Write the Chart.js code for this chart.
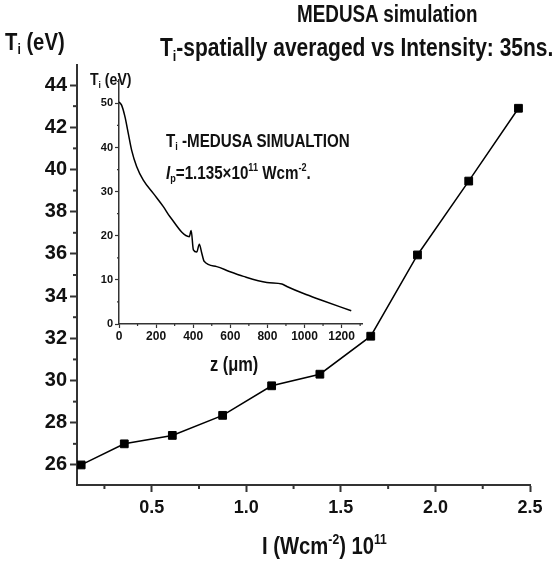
<!DOCTYPE html>
<html>
<head>
<meta charset="utf-8">
<script src="https://cdn.jsdelivr.net/npm/chart.js@4.4.1/dist/chart.umd.min.js"></script>
<style>
  body { margin:0; background:#fff; }
  #wrap { position:relative; width:559px; height:562px; font-family:'Liberation Sans Narrow','Arial Narrow','Liberation Sans',Arial,sans-serif; font-weight:bold; color:#111; }
  #main { position:absolute; left:0; top:0; }
  #inset { position:absolute; left:80px; top:70px; }
  .txt { position:absolute; white-space:nowrap; line-height:1; transform-origin:0 0; }
  .txt sub, .txt sup { font-size:60%; line-height:0; }
  .txt sub { vertical-align:-0.3em; }
  .txt sup { vertical-align:0.7em; }
</style>
</head>
<body>
<div id="wrap">
  <canvas id="main" width="559" height="562"></canvas>
  <canvas id="inset" width="290" height="290"></canvas>
  <div class="txt" style="left:5px;top:31px;font-size:23px;transform:scaleX(0.88)">T<sub>i</sub> (eV)</div>
  <div class="txt" style="left:297px;top:3px;font-size:23px;transform:scaleX(0.82)">MEDUSA simulation</div>
  <div class="txt" style="left:160px;top:35px;font-size:25px;transform:scaleX(0.84)">T<sub>i</sub>-spatially averaged vs Intensity: 35ns.</div>
  <div class="txt" style="left:262px;top:535px;font-size:23px;transform:scaleX(0.88)">I (Wcm<sup>-2</sup>) 10<sup>11</sup></div>
  <div class="txt" style="left:90px;top:72px;font-size:16px;transform:scaleX(0.88)">T<sub>i</sub> (eV)</div>
  <div class="txt" style="left:166px;top:132px;font-size:18.5px;transform:scaleX(0.82)">T<sub>i</sub> -MEDUSA SIMUALTION</div>
  <div class="txt" style="left:166px;top:164px;font-size:18.5px;transform:scaleX(0.82)"><i>I</i><sub>p</sub>=1.135×10<sup>11</sup> Wcm<sup>-2</sup>.</div>
  <div class="txt" style="left:210px;top:354px;font-size:20px;transform:scaleX(0.82)">z (μm)</div>
</div>
<script>
// main data: spatially averaged Ti vs intensity
const intensity = [0.127, 0.355, 0.609, 0.875, 1.134, 1.389, 1.658, 1.905, 2.176, 2.439];
const tiAvg = [26.0, 27.0, 27.4, 28.35, 29.75, 30.3, 32.1, 35.95, 39.45, 42.9];
const xTicks = [0.5, 1.0, 1.5, 2.0, 2.5];
const xMinor = [0.25, 0.75, 1.25, 1.75, 2.25];
const yTicks = [26, 28, 30, 32, 34, 36, 38, 40, 42, 44];
const yMinor = [27, 29, 31, 33, 35, 37, 39, 41, 43];

// inset: Ti profile along z
const insetZ = [0, 14, 32, 50, 68, 95, 131, 185, 239, 275, 379, 389, 401, 419, 433, 446, 459, 527, 595, 671, 797, 878, 905, 995, 1085, 1252];
const insetT = [50.3, 49.6, 47.0, 43.2, 39.4, 35.7, 32.6, 29.6, 26.6, 24.3, 19.8, 21.2, 16.8, 16.3, 18.1, 16.1, 14.2, 13.0, 11.9, 10.8, 9.4, 9.05, 8.5, 6.9, 5.5, 3.0];
const zTicks = [0, 200, 400, 600, 800, 1000, 1200];
const zMinor = [100, 300, 500, 700, 900, 1100, 1300];
const tTicks = [0, 10, 20, 30, 40, 50];
const tMinor = [5, 15, 25, 35, 45, 55];

const fam = "'Liberation Sans Narrow','Arial Narrow','Liberation Sans',Arial,sans-serif";
const axisCol = '#333';

// short minor tick marks on the outside of the axes
const minorTicks = {
  id: 'minorTicks',
  afterDraw(chart, args, opts) {
    const ctx = chart.ctx;
    ctx.save();
    ctx.strokeStyle = axisCol;
    ctx.lineWidth = opts.w;
    const xs = chart.scales.x, ys = chart.scales.y;
    opts.x.forEach(v => {
      const p = xs.getPixelForValue(v);
      ctx.beginPath(); ctx.moveTo(p, xs.top); ctx.lineTo(p, xs.top + opts.len); ctx.stroke();
    });
    opts.y.forEach(v => {
      const p = ys.getPixelForValue(v);
      ctx.beginPath(); ctx.moveTo(ys.right, p); ctx.lineTo(ys.right - opts.len, p); ctx.stroke();
    });
    ctx.restore();
  }
};

const fixTicks = arr => s => { s.ticks = arr.map(v => ({ value: v })); };

new Chart(document.getElementById('main'), {
  type: 'line',
  data: {
    datasets: [{
      data: intensity.map((x, i) => ({ x: x, y: tiAvg[i] })),
      borderColor: '#000',
      borderWidth: 1.5,
      backgroundColor: '#000',
      pointStyle: 'rect',
      pointRadius: 5.5,
      pointBorderWidth: 1,
      tension: 0
    }]
  },
  plugins: [minorTicks],
  options: {
    responsive: false,
    animation: false,
    layout: { padding: { top: 65, right: 29, left: 0, bottom: 0 } },
    plugins: {
      legend: { display: false },
      tooltip: { enabled: false },
      minorTicks: { x: xMinor, y: yMinor, len: 4, w: 2 }
    },
    scales: {
      x: {
        type: 'linear', min: 0.105, max: 2.5,
        afterBuildTicks: fixTicks(xTicks),
        afterFit: s => { s.height = 77; },
        border: { display: true, color: axisCol, width: 2 },
        grid: { drawOnChartArea: false, tickLength: 7, tickColor: axisCol, tickWidth: 2 },
        ticks: { color: '#111', padding: 5, maxRotation: 0, font: { family: fam, size: 18, weight: 'bold' },
                 callback: v => v.toFixed(1) }
      },
      y: {
        type: 'linear', min: 25.05, max: 44.95,
        afterBuildTicks: fixTicks(yTicks),
        afterFit: s => { s.width = 77; },
        border: { display: true, color: axisCol, width: 2 },
        grid: { drawOnChartArea: false, tickLength: 7, tickColor: axisCol, tickWidth: 2 },
        ticks: { color: '#111', padding: 3, font: { family: fam, size: 20, weight: 'bold' } }
      }
    }
  }
});

new Chart(document.getElementById('inset'), {
  type: 'line',
  data: {
    datasets: [{
      data: insetZ.map((z, i) => ({ x: z, y: insetT[i] })),
      borderColor: '#000',
      borderWidth: 1.5,
      pointRadius: 0,
      cubicInterpolationMode: 'monotone'
    }]
  },
  plugins: [minorTicks],
  options: {
    responsive: false,
    animation: false,
    layout: { padding: { top: 10, right: 8, left: 0, bottom: 0 } },
    plugins: {
      legend: { display: false },
      tooltip: { enabled: false },
      minorTicks: { x: zMinor, y: tMinor, len: 2, w: 1.2 }
    },
    scales: {
      x: {
        type: 'linear', min: 0, max: 1310,
        afterBuildTicks: fixTicks(zTicks),
        afterFit: s => { s.height = 36; },
        border: { display: true, color: axisCol, width: 1.5 },
        grid: { drawOnChartArea: false, tickLength: 4, tickColor: axisCol, tickWidth: 1.2 },
        ticks: { color: '#111', padding: 1, maxRotation: 0, autoSkip: false, font: { family: fam, size: 12, weight: 'bold' },
                 callback: v => String(v) }
      },
      y: {
        type: 'linear', min: 0, max: 55.3,
        afterBuildTicks: fixTicks(tTicks),
        afterFit: s => { s.width = 39; },
        border: { display: true, color: axisCol, width: 1.5 },
        grid: { drawOnChartArea: false, tickLength: 4, tickColor: axisCol, tickWidth: 1.2 },
        ticks: { color: '#111', padding: 2, font: { family: fam, size: 11, weight: 'bold' } }
      }
    }
  }
});
</script>
</body>
</html>
